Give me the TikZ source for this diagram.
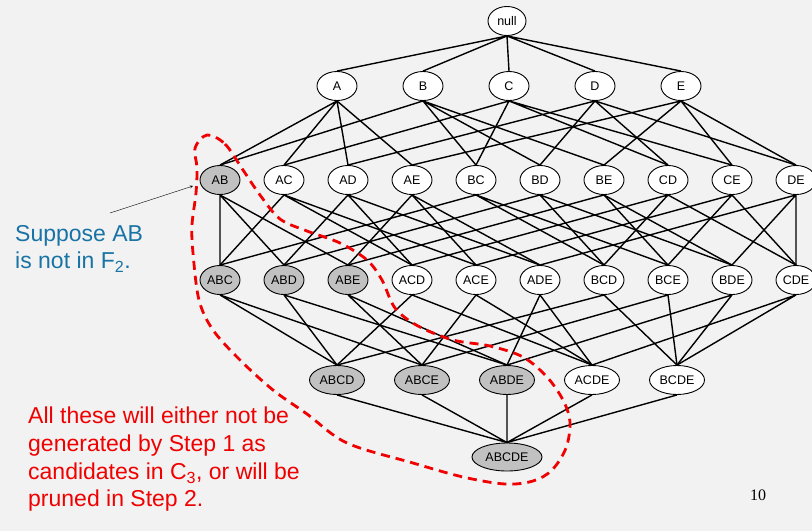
\documentclass[tikz,border=0pt]{standalone}
\usepackage{fontspec}
\setmainfont{Liberation Sans}
\newfontfamily\pagefont{Liberation Serif}
\usepackage{tikz}
\usetikzlibrary{shapes.geometric, arrows}
\definecolor{slidebg}{RGB}{242,242,242}
\definecolor{prunegray}{RGB}{193,193,193}
\definecolor{noteblue}{RGB}{25,115,165}
\definecolor{notered}{RGB}{240,0,0}
\tikzstyle{itemset} = [ellipse, draw=black, line width=0.9pt, fill=white, inner sep=0pt, minimum width=40pt, minimum height=29pt, font=\fontsize{12.5}{14}\selectfont]
\tikzstyle{pruned} = [itemset, fill=prunegray]
\tikzstyle{link} = [line width=1.4pt]
\tikzstyle{cutline} = [notered, line width=2.8pt, dash pattern=on 9pt off 6pt]
\tikzstyle{arrow} = [thin,->,>=stealth]
\tikzstyle{remark} = [anchor=north west, align=left, inner sep=0pt, font=\fontsize{23}{27.7}\selectfont]

\begin{document}
\begin{tikzpicture}[x=1pt, y=-1pt, node distance=64pt]

\useasboundingbox (0,0) rectangle (812,531);
\fill [slidebg] (0,0) rectangle (812,531);

\node (null) [itemset, minimum width=38pt] at (507,21) {null};

\node (A) [itemset] at (337,86) {A};
\node (B) [itemset, right of=A, xshift=22pt] {B};
\node (C) [itemset, right of=B, xshift=22pt] {C};
\node (D) [itemset, right of=C, xshift=22pt] {D};
\node (E) [itemset, right of=D, xshift=22pt] {E};

\node (AB) [pruned] at (220,180) {AB};
\node (AC) [itemset, right of=AB] {AC};
\node (AD) [itemset, right of=AC] {AD};
\node (AE) [itemset, right of=AD] {AE};
\node (BC) [itemset, right of=AE] {BC};
\node (BD) [itemset, right of=BC] {BD};
\node (BE) [itemset, right of=BD] {BE};
\node (CD) [itemset, right of=BE] {CD};
\node (CE) [itemset, right of=CD] {CE};
\node (DE) [itemset, right of=CE] {DE};

\node (ABC) [pruned] at (220,280) {ABC};
\node (ABD) [pruned, right of=ABC] {ABD};
\node (ABE) [pruned, right of=ABD] {ABE};
\node (ACD) [itemset, right of=ABE] {ACD};
\node (ACE) [itemset, right of=ACD] {ACE};
\node (ADE) [itemset, right of=ACE] {ADE};
\node (BCD) [itemset, right of=ADE] {BCD};
\node (BCE) [itemset, right of=BCD] {BCE};
\node (BDE) [itemset, right of=BCE] {BDE};
\node (CDE) [itemset, right of=BDE] {CDE};

\node (ABCD) [pruned, minimum width=55pt] at (337,380) {ABCD};
\node (ABCE) [pruned, minimum width=55pt, right of=ABCD, xshift=21pt] {ABCE};
\node (ABDE) [pruned, minimum width=55pt, right of=ABCE, xshift=21pt] {ABDE};
\node (ACDE) [itemset, minimum width=55pt, right of=ABDE, xshift=21pt] {ACDE};
\node (BCDE) [itemset, minimum width=55pt, right of=ACDE, xshift=21pt] {BCDE};

\node (ABCDE) [pruned, minimum width=70pt, minimum height=28pt] at (507,457) {ABCDE};

\draw [link] (null.south) -- (A.north) (null.south) -- (B.north) (null.south) -- (C.north) (null.south) -- (D.north) (null.south) -- (E.north);

\draw [link] (A.south) -- (AB.north) (A.south) -- (AC.north) (A.south) -- (AD.north) (A.south) -- (AE.north);
\draw [link] (B.south) -- (AB.north) (B.south) -- (BC.north) (B.south) -- (BD.north) (B.south) -- (BE.north);
\draw [link] (C.south) -- (AC.north) (C.south) -- (BC.north) (C.south) -- (CD.north) (C.south) -- (CE.north);
\draw [link] (D.south) -- (AD.north) (D.south) -- (BD.north) (D.south) -- (CD.north) (D.south) -- (DE.north);
\draw [link] (E.south) -- (AE.north) (E.south) -- (BE.north) (E.south) -- (CE.north) (E.south) -- (DE.north);

\draw [link] (AB.south) -- (ABC.north) (AB.south) -- (ABD.north) (AB.south) -- (ABE.north);
\draw [link] (AC.south) -- (ABC.north) (AC.south) -- (ACD.north) (AC.south) -- (ACE.north);
\draw [link] (AD.south) -- (ABD.north) (AD.south) -- (ACD.north) (AD.south) -- (ADE.north);
\draw [link] (AE.south) -- (ABE.north) (AE.south) -- (ACE.north) (AE.south) -- (ADE.north);
\draw [link] (BC.south) -- (ABC.north) (BC.south) -- (BCD.north) (BC.south) -- (BCE.north);
\draw [link] (BD.south) -- (ABD.north) (BD.south) -- (BCD.north) (BD.south) -- (BDE.north);
\draw [link] (BE.south) -- (ABE.north) (BE.south) -- (BCE.north) (BE.south) -- (BDE.north);
\draw [link] (CD.south) -- (ACD.north) (CD.south) -- (BCD.north) (CD.south) -- (CDE.north);
\draw [link] (CE.south) -- (ACE.north) (CE.south) -- (BCE.north) (CE.south) -- (CDE.north);
\draw [link] (DE.south) -- (ADE.north) (DE.south) -- (BDE.north) (DE.south) -- (CDE.north);

\draw [link] (ABC.south) -- (ABCD.north) (ABC.south) -- (ABCE.north);
\draw [link] (ABD.south) -- (ABCD.north) (ABD.south) -- (ABDE.north);
\draw [link] (ABE.south) -- (ABCE.north) (ABE.south) -- (ABDE.north);
\draw [link] (ACD.south) -- (ABCD.north) (ACD.south) -- (ACDE.north);
\draw [link] (ACE.south) -- (ABCE.north) (ACE.south) -- (ACDE.north);
\draw [link] (ADE.south) -- (ABDE.north) (ADE.south) -- (ACDE.north);
\draw [link] (BCD.south) -- (ABCD.north) (BCD.south) -- (BCDE.north);
\draw [link] (BCE.south) -- (ABCE.north) (BCE.south) -- (BCDE.north);
\draw [link] (BDE.south) -- (ABDE.north) (BDE.south) -- (BCDE.north);
\draw [link] (CDE.south) -- (ACDE.north) (CDE.south) -- (BCDE.north);

\draw [link] (ABCD.south) -- (ABCDE.north) (ABCE.south) -- (ABCDE.north) (ABDE.south) -- (ABCDE.north) (ACDE.south) -- (ABCDE.north) (BCDE.south) -- (ABCDE.north);

\draw [cutline] plot [smooth cycle, tension=0.55] coordinates {(207,135) (225,144) (243,170) (260,195) (280,219) (307,231) (340,243) (367,260) (382,280) (395,308) (418,326) (453,340) (490,346) (523,357) (547,377) (563,400) (570,422) (566,448) (552,470) (533,481) (505,484) (463,477) (413,463) (347,443) (307,414) (273,390) (240,360) (213,330) (199,300) (193,253) (192,225) (196,193) (197,168) (195,148)};

\node (suppose) [remark, text=noteblue] at (15,225) {Suppose AB\\is not in F\textsubscript{2}.};
\coordinate (tail) at (110,213);
\coordinate (tip) at (193,186);
\draw [arrow] (tail) -- (tip);

\node (allthese) [remark, text=notered] at (28,407) {All these will either not be\\generated by Step 1 as\\candidates in C\textsubscript{3}, or will be\\pruned in Step 2.};

\node (page) [font=\pagefont\fontsize{16}{18}\selectfont] at (758,495) {10};

\end{tikzpicture}
\end{document}
